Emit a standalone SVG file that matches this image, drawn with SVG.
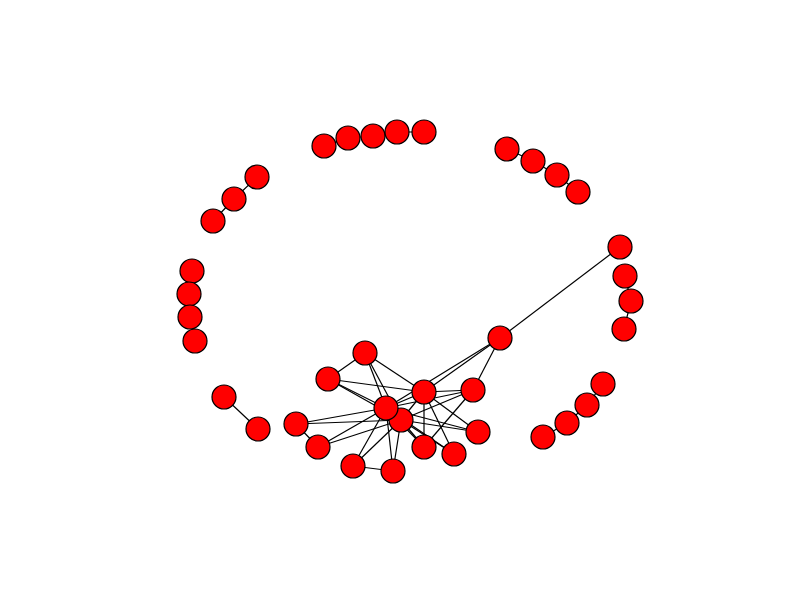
<svg xmlns="http://www.w3.org/2000/svg" width="800" height="600" viewBox="0 0 800 600">
<style>
.e{stroke:#000;stroke-width:1.2;fill:none}
.n{fill:#ff0000;stroke:#000;stroke-width:1.2}
</style>
<rect width="800" height="600" fill="#fff"/>
<g id="edges" class="e">
<line x1="620" y1="247" x2="500" y2="338"/>
<line x1="500" y1="338" x2="424" y2="392"/>
<line x1="500" y1="338" x2="386" y2="408"/>
<line x1="500" y1="338" x2="473" y2="390"/>
<line x1="365" y1="353" x2="328" y2="379"/>
<line x1="365" y1="353" x2="424" y2="392"/>
<line x1="365" y1="353" x2="386" y2="408"/>
<line x1="365" y1="353" x2="401" y2="420"/>
<line x1="328" y1="379" x2="424" y2="392"/>
<line x1="328" y1="379" x2="386" y2="408"/>
<line x1="328" y1="379" x2="401" y2="420"/>
<line x1="424" y1="392" x2="473" y2="390"/>
<line x1="424" y1="392" x2="386" y2="408"/>
<line x1="424" y1="392" x2="401" y2="420"/>
<line x1="424" y1="392" x2="424" y2="447"/>
<line x1="424" y1="392" x2="454" y2="454"/>
<line x1="424" y1="392" x2="478" y2="432"/>
<line x1="473" y1="390" x2="386" y2="408"/>
<line x1="473" y1="390" x2="401" y2="420"/>
<line x1="473" y1="390" x2="424" y2="447"/>
<line x1="296" y1="424" x2="386" y2="408"/>
<line x1="296" y1="424" x2="401" y2="420"/>
<line x1="296" y1="424" x2="318" y2="447"/>
<line x1="318" y1="447" x2="386" y2="408"/>
<line x1="318" y1="447" x2="401" y2="420"/>
<line x1="353" y1="466" x2="386" y2="408"/>
<line x1="353" y1="466" x2="401" y2="420"/>
<line x1="353" y1="466" x2="393" y2="471"/>
<line x1="393" y1="471" x2="386" y2="408"/>
<line x1="393" y1="471" x2="401" y2="420"/>
<line x1="424" y1="447" x2="386" y2="408"/>
<line x1="424" y1="447" x2="401" y2="420"/>
<line x1="454" y1="454" x2="386" y2="408"/>
<line x1="454" y1="454" x2="401" y2="420"/>
<line x1="478" y1="432" x2="386" y2="408"/>
<line x1="478" y1="432" x2="401" y2="420"/>
<line x1="386" y1="408" x2="401" y2="420"/>
<polyline points="324,146 348,138 373,136 397,132 424,132"/>
<polyline points="507,149 533,161 557,175 578,192"/>
<polyline points="257,177 234,199 213,221"/>
<polyline points="192,271 189,294 190,317 195,341"/>
<polyline points="625,276 631,301 624,329"/>
<polyline points="603,384 587,405 567,423 543,437"/>
<line x1="224" y1="397" x2="258" y2="429"/>
</g>
<g id="nodes" class="n">
<circle id="n1" cx="324" cy="146" r="12"/>
<circle id="n2" cx="348" cy="138" r="12"/>
<circle id="n3" cx="373" cy="136" r="12"/>
<circle id="n4" cx="397" cy="132" r="12"/>
<circle id="n5" cx="424" cy="132" r="12"/>
<circle id="n6" cx="507" cy="149" r="12"/>
<circle id="n7" cx="533" cy="161" r="12"/>
<circle id="n8" cx="557" cy="175" r="12"/>
<circle id="n9" cx="578" cy="192" r="12"/>
<circle id="n10" cx="257" cy="177" r="12"/>
<circle id="n11" cx="234" cy="199" r="12"/>
<circle id="n12" cx="213" cy="221" r="12"/>
<circle id="n13" cx="192" cy="271" r="12"/>
<circle id="n14" cx="189" cy="294" r="12"/>
<circle id="n15" cx="190" cy="317" r="12"/>
<circle id="n16" cx="195" cy="341" r="12"/>
<circle id="n17" cx="620" cy="247" r="12"/>
<circle id="n18" cx="625" cy="276" r="12"/>
<circle id="n19" cx="631" cy="301" r="12"/>
<circle id="n20" cx="624" cy="329" r="12"/>
<circle id="n21" cx="603" cy="384" r="12"/>
<circle id="n22" cx="587" cy="405" r="12"/>
<circle id="n23" cx="567" cy="423" r="12"/>
<circle id="n24" cx="543" cy="437" r="12"/>
<circle id="n25" cx="224" cy="397" r="12"/>
<circle id="n26" cx="258" cy="429" r="12"/>
<circle id="n27" cx="500" cy="338" r="12"/>
<circle id="n28" cx="365" cy="353" r="12"/>
<circle id="n29" cx="328" cy="379" r="12"/>
<circle id="n30" cx="473" cy="390" r="12"/>
<circle id="n31" cx="296" cy="424" r="12"/>
<circle id="n32" cx="318" cy="447" r="12"/>
<circle id="n33" cx="353" cy="466" r="12"/>
<circle id="n34" cx="393" cy="471" r="12"/>
<circle id="n35" cx="424" cy="447" r="12"/>
<circle id="n36" cx="454" cy="454" r="12"/>
<circle id="n37" cx="478" cy="432" r="12"/>
<circle id="n38" cx="424" cy="392" r="12"/>
<circle id="n39" cx="401" cy="420" r="12"/>
<circle id="n40" cx="386" cy="408" r="12"/>
</g>
</svg>
